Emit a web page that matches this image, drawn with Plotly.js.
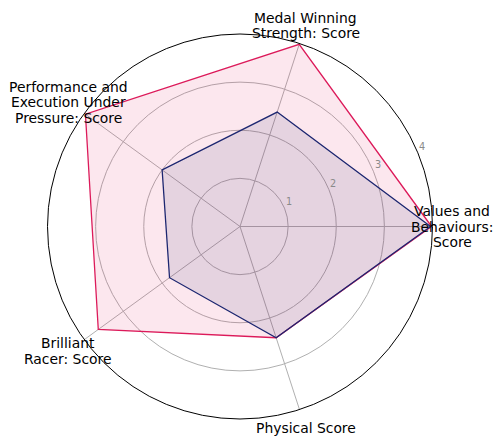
<!DOCTYPE html>
<html><head><meta charset="utf-8">
<script src="https://cdn.plot.ly/plotly-3.0.1.min.js"></script>
<style>html,body{margin:0;padding:0;background:#fff}#chart{width:503px;height:444px}</style>
</head><body><div id="chart"></div>
<script>
const categories = ["Values and<br>Behaviours:<br>Score", "Medal Winning<br>Strength: Score", "Performance and<br>Execution Under<br>Pressure: Score", "Brilliant<br>Racer: Score", "Physical Score"];
const seriesA = [3.98, 3.98, 3.97, 3.64, 2.43];
const seriesB = [3.96, 2.5, 2.0, 1.81, 2.43];
const radialTicks = [1, 2, 3, 4];
const radialMax = 4;

const W = 503, H = 444;
const m = {l: 47, r: 70, t: 33.5, b: 24.5};
const cx = 240, cy = 226.5, R = 212, LH = 15.5, Rpx = 193;
const pw = W - m.l - m.r, ph = H - m.t - m.b;

function closed(a){ return a.concat([a[0]]); }
function toPaper(px, py){ return {x:(px - m.l)/pw, y:(H - m.b - py)/ph}; }

const traces = [
  {type:'scatterpolar', r: closed(seriesA), theta: closed(categories), mode:'lines',
   fill:'toself', fillcolor:'rgba(224,21,90,0.1)', line:{color:'#dc1a5a', width:1.3}, hoverinfo:'skip'},
  {type:'scatterpolar', r: closed(seriesB), theta: closed(categories), mode:'lines',
   fill:'toself', fillcolor:'rgba(27,38,110,0.1)', line:{color:'#1c2670', width:1.3}, hoverinfo:'skip'}
];

const annotations = [];
categories.forEach((c, i) => {
  const a = i * 72 * Math.PI / 180;
  const px = cx + R * Math.cos(a), py = cy - R * Math.sin(a);
  const lines = c.split('<br>');
  lines.forEach((t, k) => {
    const p = toPaper(px, py + (k - (lines.length - 1) / 2) * LH);
    annotations.push({text: t, xref:'paper', yref:'paper', x:p.x, y:p.y,
      xanchor:'center', yanchor:'middle', showarrow:false, align:'center',
      font:{family:'DejaVu Sans', size:13.9, color:'#000'}});
  });
});
const ra = 22.5 * Math.PI / 180;
radialTicks.forEach(v => {
  const rr = v / radialMax * Rpx;
  const p = toPaper(cx + rr * Math.cos(ra), cy - rr * Math.sin(ra));
  annotations.push({text: String(v), xref:'paper', yref:'paper', x:p.x, y:p.y,
    xanchor:'left', yanchor:'bottom', showarrow:false, borderpad:0,
    font:{family:'DejaVu Sans', size:9.7, color:'#8a8a8a'}});
});

const layout = {
  width: W, height: H, margin: m, showlegend:false,
  paper_bgcolor:'#fff', font:{family:'DejaVu Sans'},
  annotations: annotations,
  polar: {
    domain:{x:[0,1], y:[0,1]}, bgcolor:'#fff',
    angularaxis: {type:'category', categoryarray: categories, rotation:0, direction:'counterclockwise',
      showline:true, linecolor:'#000', linewidth:1, showgrid:true, gridcolor:'#b0b0b0', gridwidth:1,
      showticklabels:false, ticks:''},
    radialaxis: {range:[0, radialMax], tickvals: radialTicks, angle:22.5,
      showline:false, showgrid:true, gridcolor:'#b0b0b0', gridwidth:1, ticks:'', showticklabels:false}
  }
};
Plotly.newPlot('chart', traces, layout, {staticPlot:true, displayModeBar:false});
</script></body></html>
